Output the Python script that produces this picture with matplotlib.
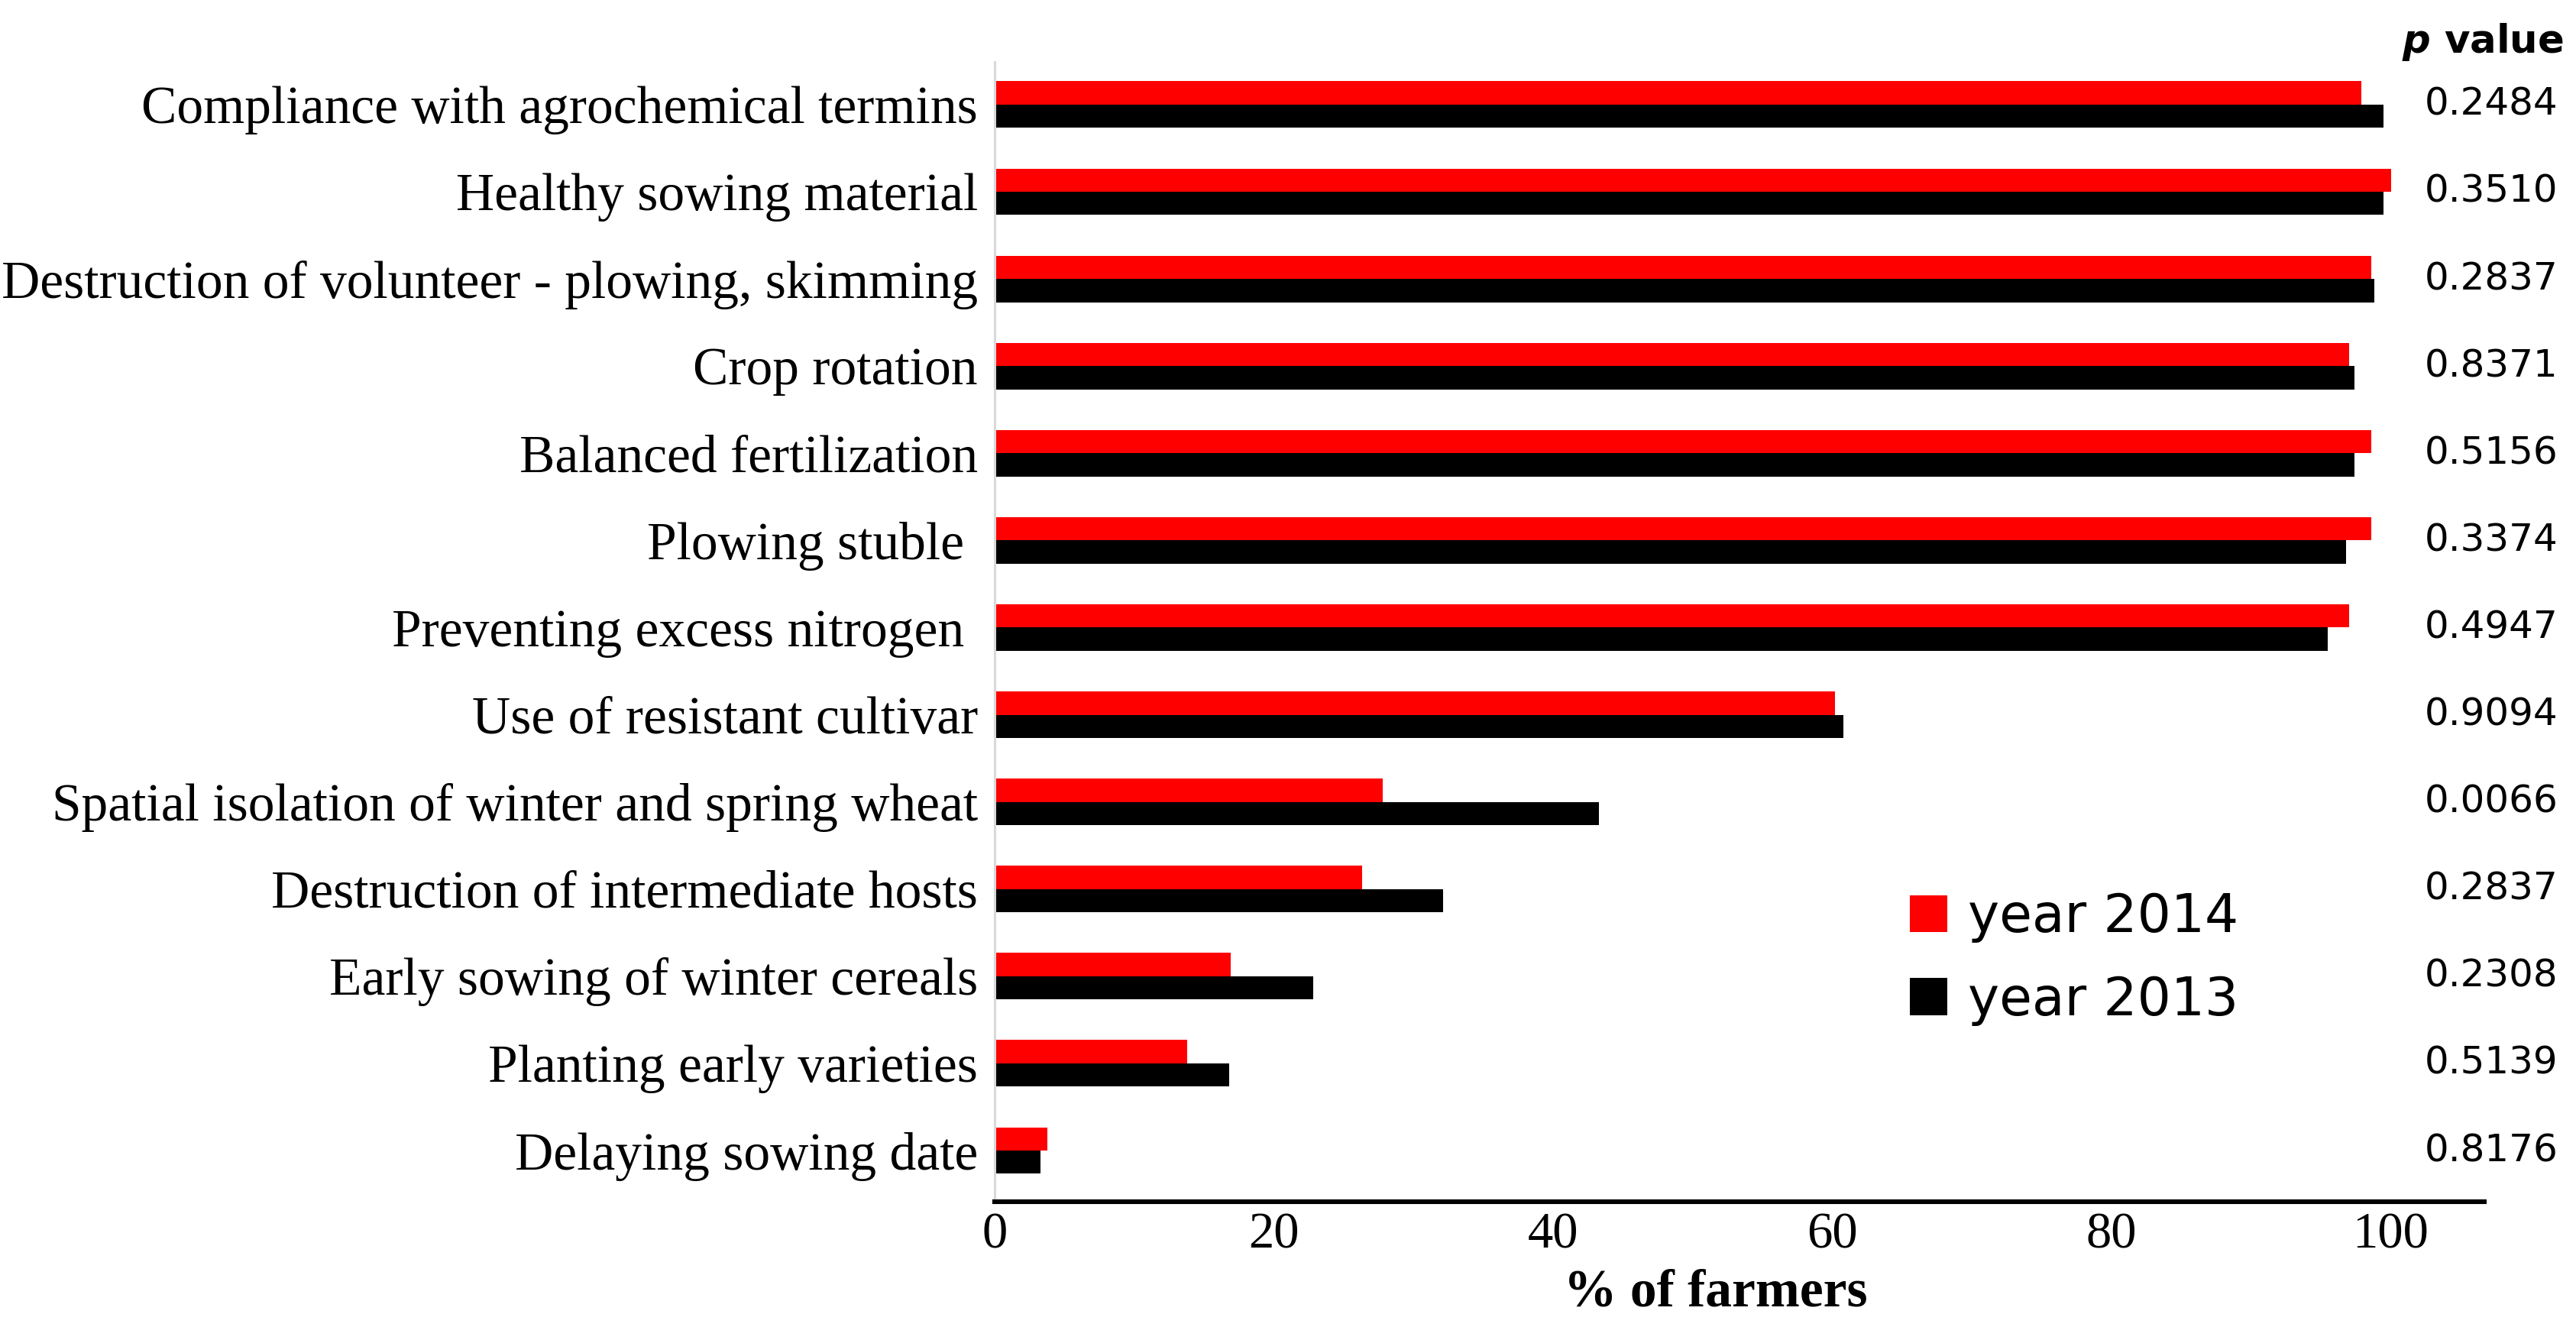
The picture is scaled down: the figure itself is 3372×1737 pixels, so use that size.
import matplotlib
matplotlib.use("Agg")
import matplotlib.pyplot as plt
import numpy as np

plt.rcParams["mathtext.fontset"] = "dejavusans"

categories = [
    "Compliance with agrochemical termins",
    "Healthy sowing material",
    "Destruction of volunteer - plowing, skimming",
    "Crop rotation",
    "Balanced fertilization",
    "Plowing stuble ",
    "Preventing excess nitrogen ",
    "Use of resistant cultivar",
    "Spatial isolation of winter and spring wheat",
    "Destruction of intermediate hosts",
    "Early sowing of winter cereals",
    "Planting early varieties",
    "Delaying sowing date",
]
year_2014 = [97.9, 100.0, 98.6, 97.0, 98.6, 98.6, 97.0, 60.2, 27.8, 26.3, 16.9, 13.8, 3.8]
year_2013 = [99.5, 99.5, 98.8, 97.4, 97.4, 96.8, 95.5, 60.8, 43.3, 32.1, 22.8, 16.8, 3.3]
p_values = ["0.2484", "0.3510", "0.2837", "0.8371", "0.5156", "0.3374", "0.4947",
            "0.9094", "0.0066", "0.2837", "0.2308", "0.5139", "0.8176"]
x_ticks = [0, 20, 40, 60, 80, 100]

W, H, DPI = 3372, 1737, 200
fig = plt.figure(figsize=(W / DPI, H / DPI), dpi=DPI)
ax = fig.add_axes([1302 / W, 1 - 1573 / H, (3252 - 1302) / W, (1573 - 81) / H])

n = len(categories)
y = np.arange(n)[::-1]
bh = 0.267
ax.barh(y + bh / 2, year_2014, height=bh, color="#FF0000", label="year 2014", linewidth=0)
ax.barh(y - bh / 2, year_2013, height=bh, color="#000000", label="year 2013", linewidth=0)

ax.set_xlim(0, 106.7)
ax.set_ylim(-0.587, n - 1 + 0.49)
ax.set_yticks(y)
ax.set_yticklabels(categories, fontfamily="Liberation Serif", fontsize=25)
ax.set_xticks(x_ticks)
ax.set_xticklabels([str(t) for t in x_ticks], fontfamily="Liberation Serif", fontsize=24)
ax.tick_params(axis="y", length=0, pad=8)
ax.tick_params(axis="x", length=0, pad=5)

for s in ["top", "right"]:
    ax.spines[s].set_visible(False)
ax.spines["left"].set_color("#D9D9D9")
ax.spines["left"].set_linewidth(1.1)
ax.spines["bottom"].set_color("#000000")
ax.spines["bottom"].set_linewidth(2.2)

for yi, pv in zip(y, p_values):
    ax.text(112.0, yi, pv, ha="right", va="center", fontsize=18,
            fontfamily="DejaVu Sans", clip_on=False)
ax.text(106.6, n - 1 + 0.72, r"$\mathbfit{p}$ value", ha="center", va="center",
        fontsize=18.5, fontweight="bold", fontfamily="DejaVu Sans", clip_on=False)

fig.text(2246 / W, 1 - 1693 / H, "% of farmers", ha="center", va="center",
         fontfamily="Liberation Serif", fontweight="bold", fontsize=25)

leg = ax.legend(loc="center left", bbox_to_anchor=(2500 / W, 1 - 1255 / H),
                bbox_transform=fig.transFigure, frameon=False,
                prop={"family": "DejaVu Sans", "size": 25},
                handlelength=0.7, handleheight=0.7, handletextpad=0.4,
                labelspacing=0.6, borderpad=0, borderaxespad=0)

fig.savefig("out.png", dpi=DPI, facecolor="white")
